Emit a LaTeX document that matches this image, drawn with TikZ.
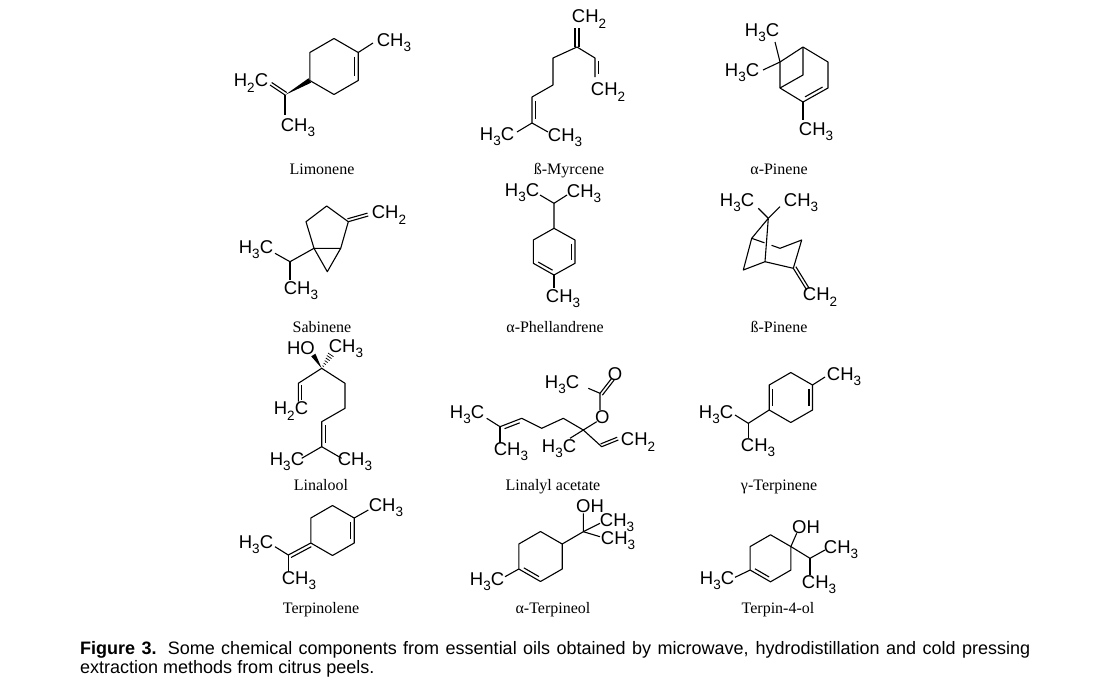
\documentclass[tikz,border=0pt]{standalone}
\usepackage{fontspec}
\setmainfont{Liberation Serif}
\newfontfamily\arial{Liberation Sans}
\usetikzlibrary{calc}
\newcommand\chemfont{\arial\fontsize{18.5}{18.5}\selectfont}
\newcommand\namefont{\fontsize{16}{16}\selectfont}
\newcommand\sub[1]{\raisebox{-0.28em}{\fontsize{13.5}{13.5}\selectfont #1}}
\newcommand\dbl[4][0.15]{\draw[bond] ($#2!#1!#3!#4!90:#3$) -- ($#3!#1!#2!#4!-90:#2$);}
\begin{document}
\begin{tikzpicture}[x=1pt,y=-1pt,
  bond/.style={line width=1.1pt,line join=round},
  ch/.style={font=\chemfont, inner sep=0pt},
  nm/.style={font=\namefont, inner sep=0pt, anchor=base},
  captxt/.style={font=\arial\fontsize{18}{18}\selectfont, inner sep=0pt, anchor=base west}]
\fill[white] (0,0) rectangle (1105,683);
\useasboundingbox (0,0) rectangle (1105,683);

% ---------- Limonene
\coordinate (L1) at (334,38.5); \coordinate (L2) at (358.2,52.5);
\coordinate (L3) at (358.2,80.5); \coordinate (L4) at (334,94.5);
\coordinate (L5) at (309.8,80.5); \coordinate (L6) at (309.8,52.5);
\coordinate (LI) at (285,95);
\draw[bond] (L1)--(L2)--(L3)--(L4)--(L5)--(L6)--cycle;
\dbl{(L2)}{(L3)}{-3.5pt}
\draw[bond] (L2)--(373,43);
\fill (LI)--(311.1,82.7)--(308.5,78.3)--cycle;
\draw[bond] (LI)--(270,85); \dbl[0]{(LI)}{(270,85)}{-3pt}
\draw[bond] (LI)--(285,115);
\node[ch] (lim1) at (394,43) {CH\sub3};
\node[ch] (lim2) at (251,83) {H\sub2C};
\node[ch] (lim3) at (298,128) {CH\sub3};
\node[nm] (limn) at (322,174) {Limonene};

% ---------- Myrcene
\coordinate (M1) at (577,47); \coordinate (M2) at (595,58);
\coordinate (M3) at (595,77); \coordinate (M4) at (553,58);
\coordinate (M5) at (553,85); \coordinate (M6) at (532,97);
\coordinate (M7) at (532,123); \coordinate (M8) at (517,132);
\coordinate (M9) at (548,132);
\draw[bond] (M3)--(M2)--(M1)--(M4)--(M5)--(M6)--(M7)--(M8);
\draw[bond] (M7)--(M9);
\dbl{(M2)}{(M3)}{3.5pt}
\dbl{(M6)}{(M7)}{3.5pt}
\draw[bond] ($(M1)+(-2,0)$)--++(0,-19);
\draw[bond] ($(M1)+(2,0)$)--++(0,-19);
\node[ch] (my1) at (589,19) {CH\sub2};
\node[ch] (my2) at (608,92) {CH\sub2};
\node[ch] (my3) at (497,137) {H\sub3C};
\node[ch] (my4) at (565,138) {CH\sub3};
\node[nm] (myn) at (569,174) {ß-Myrcene};

% ---------- alpha-Pinene
\coordinate (P1) at (780,62); \coordinate (P2) at (803,47);
\coordinate (P3) at (828,62); \coordinate (P4) at (828,88);
\coordinate (P5) at (803,102); \coordinate (P6) at (780,88);
\coordinate (P7) at (803,75);
\draw[bond] (P1)--(P2)--(P3)--(P4)--(P5)--(P6)--cycle;
\draw[bond] (P2)--(P7)--(P6);
\dbl{(P4)}{(P5)}{-3.5pt}
\draw[bond] (P1)--(775,42);
\draw[bond] (P1)--(763,70);
\draw[bond] (P5)--(803,120);
\node[ch] (ap1) at (762,33) {H\sub3C};
\node[ch] (ap2) at (742,73) {H\sub3C};
\node[ch] (ap3) at (816,132) {CH\sub3};
\node[nm] (apn) at (779,174) {α-Pinene};

% ---------- Sabinene
\coordinate (S1) at (326.7,206); \coordinate (S2) at (348.3,221.7);
\coordinate (S3) at (340.7,248.3); \coordinate (S4) at (314,248.3);
\coordinate (S5) at (306,221.7); \coordinate (S6) at (327.3,271.7);
\coordinate (S7) at (290,261.7); \coordinate (S8) at (368.3,216);
\draw[bond] (S1)--(S2)--(S3)--(S4)--(S5)--cycle;
\draw[bond] (S4)--(S6)--(S3);
\draw[bond] (S2)--(S8); \dbl[0]{(S2)}{(S8)}{3pt}
\draw[bond] (S4)--(S7)--(275,253.3);
\draw[bond] (S7)--(290,280);
\node[ch] (sa1) at (389,215) {CH\sub2};
\node[ch] (sa2) at (256,250) {H\sub3C};
\node[ch] (sa3) at (301,291) {CH\sub3};
\node[nm] (san) at (322,332) {Sabinene};

% ---------- alpha-Phellandrene
\coordinate (F0) at (554,203.3); \coordinate (F1) at (554,228.3);
\coordinate (F2) at (575,240); \coordinate (F3) at (575,263.3);
\coordinate (F4) at (554,275); \coordinate (F5) at (533.3,263.3);
\coordinate (F6) at (533.3,240);
\draw[bond] (F1)--(F2)--(F3)--(F4)--(F5)--(F6)--cycle;
\dbl{(F2)}{(F3)}{-3.5pt}
\dbl{(F4)}{(F5)}{-3.5pt}
\draw[bond] (F1)--(F0)--(540,195);
\draw[bond] (F0)--(567,195);
\draw[bond] (F4)--(554,288.3);
\node[ch] (ph1) at (522,193) {H\sub3C};
\node[ch] (ph2) at (584,194) {CH\sub3};
\node[ch] (ph3) at (563,299) {CH\sub3};
\node[nm] (phn) at (555,332) {α-Phellandrene};

% ---------- beta-Pinene
\coordinate (B0) at (768.3,218.3); \coordinate (B1) at (751.7,238.3);
\coordinate (B2) at (765,261.7); \coordinate (B3) at (743.3,270);
\coordinate (B4) at (793.3,268.3); \coordinate (B5) at (801.7,240);
\coordinate (B6) at (780,248.3); \coordinate (B7) at (806.7,290);
\draw[bond] (B0)--(B1)--(B3)--(B2)--(B0);
\draw[bond] (B2)--(B4)--(B5)--(B6)--($(B6)!0.3!(B1)$);
\draw[bond] ($(B6)!0.55!(B1)$)--(B1);
\draw[bond] (B0)--(758.3,208.3);
\draw[bond] (B0)--(780,206.7);
\draw[bond] (B4)--(B7); \dbl[0]{(B4)}{(B7)}{3pt}
\node[ch] (bp1) at (737,203) {H\sub3C};
\node[ch] (bp2) at (801,203) {CH\sub3};
\node[ch] (bp3) at (820,297) {CH\sub2};
\node[nm] (bpn) at (779,332) {ß-Pinene};

% ---------- Linalool
\coordinate (N0) at (321.7,368.3); \coordinate (N1) at (298.3,383.3);
\coordinate (N2) at (298.3,401.7); \coordinate (N3) at (345,383.3);
\coordinate (N4) at (345,408.3); \coordinate (N5) at (321.7,421.7);
\coordinate (N6) at (321.7,446.7); \coordinate (N7) at (301.7,458.3);
\coordinate (N8) at (341.7,458.3); \coordinate (NH) at (331.7,353.3);
\draw[bond] (N2)--(N1)--(N0)--(N3)--(N4)--(N5)--(N6)--(N7);
\draw[bond] (N6)--(N8);
\dbl[0.1]{(N1)}{(N2)}{3.5pt}
\dbl{(N5)}{(N6)}{3.5pt}
\fill (N0)--(315.4,353.7)--(311.2,356.3)--cycle;
\foreach \t/\h in {0.15/0.8,0.3/1.3,0.45/1.8,0.6/2.3,0.75/2.8,0.9/3.3}
  \draw[line width=0.7pt] ($(N0)!\t!(NH)!\h pt!90:(NH)$) -- ($(N0)!\t!(NH)!\h pt!-90:(NH)$);
\node[ch] (li1) at (301,348) {HO};
\node[ch] (li2) at (346,349) {CH\sub3};
\node[ch] (li3) at (291,411) {H\sub2C};
\node[ch] (li4) at (287,462) {H\sub3C};
\node[ch] (li5) at (355,462) {CH\sub3};
\node[nm] (lin) at (321,490) {Linalool};

% ---------- Linalyl acetate
\coordinate (A0) at (486.7,418.3); \coordinate (A1) at (500,426.7);
\coordinate (A2) at (500,443.3); \coordinate (A3) at (521.7,418.3);
\coordinate (A4) at (541.7,428.3); \coordinate (A5) at (563.3,418.3);
\coordinate (A6) at (583.3,430); \coordinate (A7) at (596.7,421.7);
\coordinate (A8) at (600,410); \coordinate (A9) at (600,393.3);
\coordinate (A10) at (588.3,388.3); \coordinate (A11) at (611.7,378.3);
\coordinate (A12) at (570,438.3); \coordinate (A13) at (601.7,446.7);
\coordinate (A14) at (618.3,440);
\draw[bond] (A0)--(A1)--(A3)--(A4)--(A5)--(A6)--(A7);
\draw[bond] (A1)--(A2);
\draw[bond] (A8)--(A9)--(A10);
\draw[bond] (A9)--(A11); \dbl[0]{(A9)}{(A11)}{-3pt}
\dbl{(A1)}{(A3)}{-3.5pt}
\draw[bond] (A6)--(A12);
\draw[bond] (A6)--(A13)--(A14); \dbl[0]{(A13)}{(A14)}{3pt}
\node[ch] (la1) at (467,415) {H\sub3C};
\node[ch] (la2) at (511,452) {CH\sub3};
\node[ch] (la3) at (602.3,416.7) {O};
\node[ch] (la4) at (562,385) {H\sub3C};
\node[ch] (la5) at (615,374) {O};
\node[ch] (la6) at (559,449) {H\sub3C};
\node[ch] (la7) at (638,442) {CH\sub2};
\node[nm] (lan) at (553,490) {Linalyl acetate};

% ---------- gamma-Terpinene
\coordinate (G1) at (790.8,372.5); \coordinate (G2) at (812.5,385);
\coordinate (G3) at (812.5,410); \coordinate (G4) at (790.8,422.5);
\coordinate (G5) at (769.2,410); \coordinate (G6) at (769.2,385);
\coordinate (GI) at (748.3,423.3);
\draw[bond] (G1)--(G2)--(G3)--(G4)--(G5)--(G6)--cycle;
\dbl{(G6)}{(G5)}{3.5pt}
\dbl{(G2)}{(G3)}{-3.5pt}
\draw[bond] (G2)--(825,377);
\draw[bond] (G5)--(GI)--(735,415);
\draw[bond] (GI)--(748.3,438.3);
\node[ch] (gt1) at (844,377) {CH\sub3};
\node[ch] (gt2) at (716,415) {H\sub3C};
\node[ch] (gt3) at (758,448) {CH\sub3};
\node[nm] (gtn) at (779,490) {γ-Terpinene};

% ---------- Terpinolene
\coordinate (T1) at (332.5,505.5); \coordinate (T2) at (354.2,518);
\coordinate (T3) at (354.2,543); \coordinate (T4) at (332.5,555.5);
\coordinate (T5) at (310.8,543); \coordinate (T6) at (310.8,518);
\coordinate (TI) at (288.3,555);
\draw[bond] (T1)--(T2)--(T3)--(T4)--(T5)--(T6)--cycle;
\dbl{(T2)}{(T3)}{-3.5pt}
\draw[bond] (T2)--(368.3,510);
\draw[bond] (T5)--(TI); \dbl[0.05]{(T5)}{(TI)}{3.5pt}
\draw[bond] (TI)--(275,546.7);
\draw[bond] (TI)--(288.3,571.7);
\node[ch] (tl1) at (386,508) {CH\sub3};
\node[ch] (tl2) at (256,545) {H\sub3C};
\node[ch] (tl3) at (299,581) {CH\sub3};
\node[nm] (tln) at (321,613) {Terpinolene};

% ---------- alpha-Terpineol
\coordinate (R1) at (540.5,531.5); \coordinate (R2) at (562.2,544);
\coordinate (R3) at (562.2,569); \coordinate (R4) at (540.5,581.5);
\coordinate (R5) at (518.8,569); \coordinate (R6) at (518.8,544);
\coordinate (RC) at (583.3,531.7);
\draw[bond] (R1)--(R2)--(R3)--(R4)--(R5)--(R6)--cycle;
\dbl{(R5)}{(R4)}{3.5pt}
\draw[bond] (R5)--(505,576.7);
\draw[bond] (R2)--(RC)--(583.3,513.3);
\draw[bond] (RC)--(600,523.3);
\draw[bond] (RC)--(600,536.7);
\node[ch] (at1) at (487,582) {H\sub3C};
\node[ch] (at2) at (590,506) {OH};
\node[ch] (at3) at (617,523) {CH\sub3};
\node[ch] (at4) at (618,541) {CH\sub3};
\node[nm] (atn) at (553,613) {α-Terpineol};

% ---------- Terpin-4-ol
\coordinate (Q1) at (770.5,534.8); \coordinate (Q2) at (790.85,546.55);
\coordinate (Q3) at (790.85,570.05); \coordinate (Q4) at (770.5,581.8);
\coordinate (Q5) at (750.15,570.05); \coordinate (Q6) at (750.15,546.55);
\coordinate (QI) at (810,558.3);
\draw[bond] (Q1)--(Q2)--(Q3)--(Q4)--(Q5)--(Q6)--cycle;
\dbl{(Q5)}{(Q4)}{3.5pt}
\draw[bond] (Q5)--(735,577.3);
\draw[bond] (Q2)--(796.7,533.3);
\draw[bond] (Q2)--(QI)--(825,550);
\draw[bond] (QI)--(810,575);
\node[ch] (t41) at (717,581) {H\sub3C};
\node[ch] (t42) at (806,527) {OH};
\node[ch] (t43) at (841,550) {CH\sub3};
\node[ch] (t44) at (819,585) {CH\sub3};
\node[nm] (t4n) at (778,613) {Terpin-4-ol};

% ---------- Caption
\node[captxt] (cap1) at (80,654) {\makebox[950pt][s]{\textbf{Figure 3.} Some chemical components from essential oils obtained by microwave, hydrodistillation and cold pressing}};
\node[captxt] (cap2) at (80,673) {extraction methods from citrus peels.};
\end{tikzpicture}
\end{document}
